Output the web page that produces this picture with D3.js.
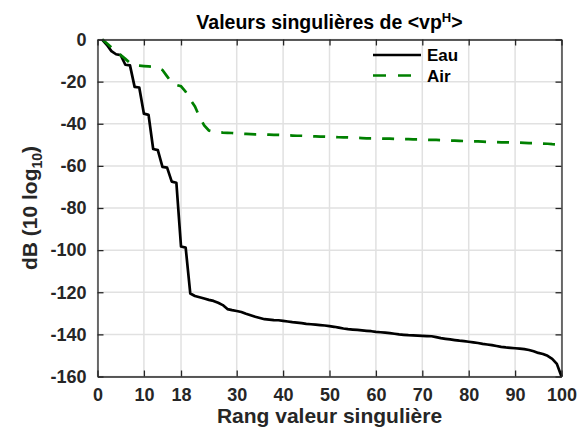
<!DOCTYPE html>
<html><head><meta charset="utf-8">
<script src="https://cdn.jsdelivr.net/npm/d3@7"></script>
<style>
body{margin:0;background:#fff;}
text{font-family:"Liberation Sans",Arial,Helvetica,sans-serif;font-weight:bold;}
</style></head>
<body><svg id="c" width="586" height="430"></svg>
<script>
const rank = d3.range(1, 101);
const eau = [0,-2.5,-5.5,-7.0,-7.4,-12.0,-12.3,-22.5,-22.8,-35.2,
-35.8,-52.0,-52.5,-60.5,-60.8,-67.5,-68.0,-98.3,-98.8,-120.6,
-121.8,-122.4,-123.0,-123.6,-124.1,-125.0,-126.1,-128.0,-128.5,-128.9,
-129.4,-130.2,-130.9,-131.6,-132.2,-132.8,-133.0,-133.2,-133.3,-133.6,
-133.9,-134.2,-134.4,-134.7,-135.0,-135.2,-135.4,-135.6,-135.8,-136.1,
-136.4,-136.8,-137.2,-137.5,-137.7,-137.9,-138.1,-138.3,-138.5,-138.8,
-139.0,-139.2,-139.4,-139.7,-140.0,-140.2,-140.4,-140.5,-140.6,-140.7,
-140.8,-140.9,-141.3,-141.8,-142.1,-142.4,-142.7,-143.0,-143.2,-143.5,
-143.8,-144.1,-144.5,-144.8,-145.1,-145.5,-145.9,-146.2,-146.4,-146.6,
-146.8,-147.0,-147.4,-148.0,-148.8,-149.3,-150.2,-151.6,-154.0,-160.0];
const air = [0,-1.8,-3.8,-5.6,-7.4,-9.2,-11.2,-12.2,-12.4,-12.6,
-12.8,-13.0,-13.4,-14.5,-17.5,-20.5,-21.6,-22.2,-24.8,-28.5,
-31.8,-36.8,-40.8,-43.2,-43.8,-44.0,-44.2,-44.3,-44.4,-44.6,
-44.7,-44.8,-44.9,-45.0,-45.0,-45.1,-45.2,-45.3,-45.3,-45.4,
-45.5,-45.6,-45.7,-45.7,-45.8,-45.9,-46.0,-46.1,-46.1,-46.2,
-46.3,-46.4,-46.5,-46.5,-46.6,-46.7,-46.8,-46.9,-46.9,-47.0,
-47.0,-47.1,-47.1,-47.2,-47.2,-47.3,-47.3,-47.4,-47.4,-47.5,
-47.6,-47.7,-47.7,-47.8,-47.9,-48.0,-48.0,-48.1,-48.2,-48.3,
-48.4,-48.4,-48.5,-48.6,-48.6,-48.7,-48.8,-48.8,-48.9,-49.0,
-49.0,-49.1,-49.2,-49.2,-49.3,-49.4,-49.5,-49.7,-49.8,-50.0];
const xTicks = [0,10,18,30,40,50,60,70,80,90,100];
const yTicks = [0,-20,-40,-60,-80,-100,-120,-140,-160];
const seriesNames = ["Eau","Air"];
const seriesColors = ["#000000","#008000"];

const svg = d3.select("#c");
const L=97.5, R=561.5, T=39.5, B=376.5;
const x = d3.scaleLinear().domain([0,100]).range([L,R]);
const y = d3.scaleLinear().domain([-160,0]).range([B,T]);
const axisCol = "#262626";
const fmt = d => String(d);

// grid
const g = svg.append("g");
g.selectAll("line.gx").data(xTicks).join("line")
 .attr("x1",d=>x(d)).attr("x2",d=>x(d)).attr("y1",T).attr("y2",B)
 .attr("stroke","#e1e1e1").attr("stroke-width",1.5);
g.selectAll("line.gy").data(yTicks).join("line")
 .attr("y1",d=>y(d)).attr("y2",d=>y(d)).attr("x1",L).attr("x2",R)
 .attr("stroke","#e1e1e1").attr("stroke-width",1.5);

// lines
const line = d3.line().x((d,i)=>x(rank[i])).y(d=>y(d));
svg.append("path").datum(eau).attr("d",line).attr("fill","none")
 .attr("stroke",seriesColors[0]).attr("stroke-width",2.7).attr("stroke-linejoin","round");
svg.append("path").datum(air).attr("d",line).attr("fill","none")
 .attr("stroke",seriesColors[1]).attr("stroke-width",2.7).attr("stroke-dasharray","12,11");

// axes
const tk = 6;
const ax = svg.append("g").attr("transform",`translate(0,${B})`)
 .call(d3.axisBottom(x).tickValues(xTicks).tickFormat(fmt).tickSizeInner(-tk).tickSizeOuter(0).tickPadding(12));
const ay = svg.append("g").attr("transform",`translate(${L},0)`)
 .call(d3.axisLeft(y).tickValues(yTicks).tickFormat(fmt).tickSizeInner(-tk).tickSizeOuter(0).tickPadding(11));
const at = svg.append("g").attr("transform",`translate(0,${T})`)
 .call(d3.axisTop(x).tickValues(xTicks).tickSizeInner(-tk).tickSizeOuter(0).tickFormat(""));
const ar = svg.append("g").attr("transform",`translate(${R},0)`)
 .call(d3.axisRight(y).tickValues(yTicks).tickSizeInner(-tk).tickSizeOuter(0).tickFormat(""));
[ax,ay,at,ar].forEach(a=>{
  a.select(".domain").attr("stroke",axisCol).attr("stroke-width",1.3);
  a.selectAll(".tick line").attr("stroke",axisCol).attr("stroke-width",1.3);
  a.selectAll(".tick text").attr("fill",axisCol).style("font-size","18px")
   .style("font-family","'Liberation Sans',Arial,sans-serif").style("font-weight","bold");
});
ax.selectAll(".tick text").attr("dy","0.71em");

// labels
svg.append("text").attr("x",(L+R)/2).attr("y",423).attr("text-anchor","middle")
 .attr("fill",axisCol).style("font-size","21px").text("Rang valeur singulière");
const yl = svg.append("text").attr("transform",`translate(37,${(T+B)/2}) rotate(-90)`)
 .attr("text-anchor","middle").attr("fill",axisCol).style("font-size","21px");
yl.append("tspan").text("dB (10 log");
yl.append("tspan").attr("dy",5).style("font-size","14px").text("10");
yl.append("tspan").attr("dy",-5).text(")");

const tt = svg.append("text").attr("x",(L+R)/2).attr("y",29).attr("text-anchor","middle")
 .attr("fill","#000").style("font-size","19.5px");
tt.append("tspan").text("Valeurs singulières de <vp");
tt.append("tspan").attr("dy",-7).style("font-size","13px").text("H");
tt.append("tspan").attr("dy",7).text(">");

// legend
const leg = svg.append("g");
const legY = [55, 75.5];
seriesNames.forEach((n,i)=>{
  leg.append("line").attr("x1",373).attr("x2",421).attr("y1",legY[i]).attr("y2",legY[i])
   .attr("stroke",seriesColors[i]).attr("stroke-width",2.7)
   .attr("stroke-dasharray", i===1 ? "13,12" : null);
  leg.append("text").attr("x",427).attr("y",legY[i]+6).attr("fill","#000")
   .style("font-size","17px").text(n);
});
</script></body></html>
